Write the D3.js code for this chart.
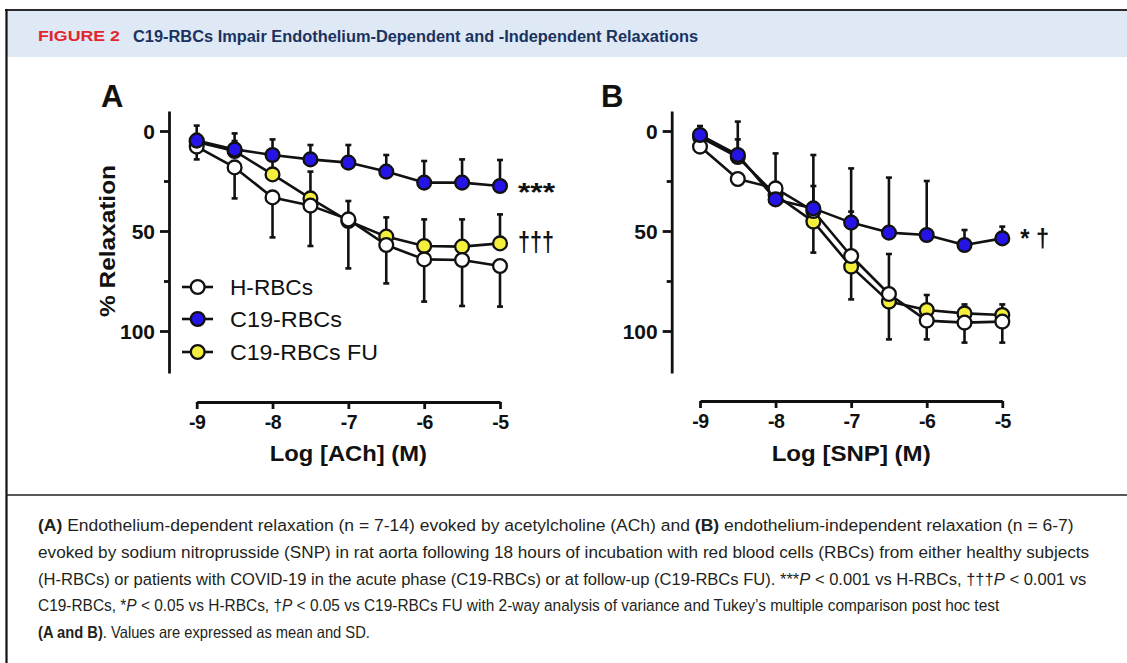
<!DOCTYPE html>
<html>
<head>
<meta charset="utf-8">
<script src="https://cdn.jsdelivr.net/npm/d3@7"></script>
<style>
  html, body { margin: 0; padding: 0; background: #fff; }
  svg { display: block; }
</style>
</head>
<body>
<svg id="chart" width="1127" height="663"></svg>
<script>
// ---------------- DATA ----------------
const doses = [-9, -8.5, -8, -7.5, -7, -6.5, -6, -5.5, -5];
const xTicks = [-9, -8, -7, -6, -5];
const yTicks = [0, 50, 100];
const yMinorTicks = [25, 75];
const seriesNames = ["H-RBCs", "C19-RBCs", "C19-RBCs FU"];

// Panel A : acetylcholine (% relaxation, mean and SD)
const achH_mean   = [7.8, 18.2, 33.2, 37.3, 44.2, 57.0, 64.2, 64.5, 67.5];
const achH_sd     = [6.4, 15.5, 20.0, 20.2, 24.5, 19.2, 21.1, 23.0, 20.3];
const achC19_mean = [4.8, 9.2, 12.0, 14.2, 15.8, 20.3, 25.8, 25.8, 27.5];
const achC19_sd   = [7.5, 8.0, 7.8, 7.2, 8.8, 8.3, 10.8, 11.6, 13.0];
const achFU_mean  = [5.5, 10.0, 21.7, 33.7, 45.0, 52.8, 57.5, 57.8, 56.2];
const achFU_sd    = [4.0, 5.0, 8.0, 13.4, 10.0, 9.6, 13.3, 13.6, 14.5];

// Panel B : sodium nitroprusside
const snpH_mean   = [7.8, 24.0, 28.7, 40.0, 62.5, 81.5, 94.8, 95.8, 95.3];
const snpH_sd     = [2.0, 3.0, 4.0, 20.8, 21.7, 22.7, 9.4, 10.0, 10.5];
const snpC19_mean = [2.0, 12.0, 34.2, 38.7, 45.8, 50.8, 52.0, 57.0, 53.7];
const snpC19_sd   = [4.5, 16.7, 23.0, 26.7, 27.1, 27.5, 27.0, 7.5, 5.9];
const snpFU_mean  = [3.0, 13.0, 32.0, 45.3, 67.8, 85.3, 89.5, 91.2, 92.0];
const snpFU_sd    = [3.0, 8.8, 5.0, 17.8, 27.5, 23.8, 7.5, 4.5, 5.3];

const captionLines = [
  [["(A)", "b"], [" Endothelium-dependent relaxation (n = 7-14) evoked by acetylcholine (ACh) and ", ""], ["(B)", "b"], [" endothelium-independent relaxation (n = 6-7)", ""]],
  [["evoked by sodium nitroprusside (SNP) in rat aorta following 18 hours of incubation with red blood cells (RBCs) from either healthy subjects", ""]],
  [["(H-RBCs) or patients with COVID-19 in the acute phase (C19-RBCs) or at follow-up (C19-RBCs FU). ***", ""], ["P", "i"], [" < 0.001 vs H-RBCs, \u2020\u2020\u2020", ""], ["P", "i"], [" < 0.001 vs", ""]],
  [["C19-RBCs, *", ""], ["P", "i"], [" < 0.05 vs H-RBCs, \u2020", ""], ["P", "i"], [" < 0.05 vs C19-RBCs FU with 2-way analysis of variance and Tukey\u2019s multiple comparison post hoc test", ""]],
  [["(A and B)", "b"], [". Values are expressed as mean and SD.", ""]]
];

// ---------------- STYLE / LAYOUT ----------------
const W = 1127, H = 663;
const colors = { "H-RBCs": "#ffffff", "C19-RBCs": "#2414e6", "C19-RBCs FU": "#f4ef3c" };
const errDir = { "H-RBCs": 1, "C19-RBCs": -1, "C19-RBCs FU": -1 };
const drawOrder = ["C19-RBCs FU", "H-RBCs", "C19-RBCs"];
const FONT = "'Liberation Sans', Arial, Helvetica, sans-serif";
const R = 6.9;

const svg = d3.select("#chart");
svg.append("rect").attr("width", W).attr("height", H).attr("fill", "#fff");

// header band and frame
svg.append("rect").attr("x", 6).attr("y", 11).attr("width", W - 6).attr("height", 46).attr("fill", "#dfe9f5");
svg.append("line").attr("x1", 5).attr("x2", W).attr("y1", 10).attr("y2", 10).attr("stroke", "#2a2a2a").attr("stroke-width", 2);
svg.append("line").attr("x1", 6.5).attr("x2", 6.5).attr("y1", 9).attr("y2", H).attr("stroke", "#111").attr("stroke-width", 2.2);
svg.append("line").attr("x1", 6).attr("x2", W).attr("y1", 495).attr("y2", 495).attr("stroke", "#222").attr("stroke-width", 1.6);

svg.append("text").attr("x", 38).attr("y", 41).attr("font-family", FONT).attr("font-weight", "bold")
  .attr("font-size", 14.5).attr("fill", "#e2262d").attr("textLength", 82).attr("lengthAdjust", "spacingAndGlyphs")
  .text("FIGURE 2");
svg.append("text").attr("x", 133).attr("y", 41.5).attr("font-family", FONT).attr("font-weight", "bold")
  .attr("font-size", 16).attr("fill", "#1b3260").attr("textLength", 565).attr("lengthAdjust", "spacingAndGlyphs")
  .text("C19-RBCs Impair Endothelium-Dependent and -Independent Relaxations");

// ---------------- PANELS ----------------
const panels = [
  {
    letter: "A", letterX: 101, xTitle: "Log [ACh] (M)", xTitleLen: 157,
    x0: 196.7, x1: 500, yAxisX: 169, xAxisY: 402, showLegend: true,
    series: { "H-RBCs": [achH_mean, achH_sd], "C19-RBCs": [achC19_mean, achC19_sd], "C19-RBCs FU": [achFU_mean, achFU_sd] },
    notes: [{ text: "***", series: "C19-RBCs", dy: 15, size: 25, len: 37 }, { text: "\u2020\u2020\u2020", series: "C19-RBCs FU", dy: 8, size: 27, len: 36 }]
  },
  {
    letter: "B", letterX: 601, xTitle: "Log [SNP] (M)", xTitleLen: 159,
    x0: 700, x1: 1002.3, yAxisX: 671.7, xAxisY: 401, showLegend: false,
    series: { "H-RBCs": [snpH_mean, snpH_sd], "C19-RBCs": [snpC19_mean, snpC19_sd], "C19-RBCs FU": [snpFU_mean, snpFU_sd] },
    notes: [{ text: "* \u2020", series: "C19-RBCs", dy: 9, size: 26, len: 29 }]
  }
];

panels.forEach(p => {
  const g = svg.append("g");
  const x = d3.scaleLinear().domain([-9, -5]).range([p.x0, p.x1]);
  const y = d3.scaleLinear().domain([-10, 121]).range([111, 373]);

  // panel letter
  g.append("text").attr("x", p.letterX).attr("y", 107).attr("font-family", FONT).attr("font-weight", "bold")
    .attr("font-size", 31).attr("fill", "#111").text(p.letter);

  // y axis
  const yAx = g.append("g").attr("transform", `translate(${p.yAxisX},0)`)
    .call(d3.axisLeft(y).tickValues(yTicks).tickSize(9).tickSizeOuter(0).tickPadding(5).tickFormat(d => String(d)));
  const yMin = g.append("g").attr("transform", `translate(${p.yAxisX},0)`)
    .call(d3.axisLeft(y).tickValues(yMinorTicks).tickSize(5).tickSizeOuter(0).tickFormat(""));
  yMin.select(".domain").remove();
  [yAx, yMin].forEach(a => {
    a.selectAll("path,line").attr("stroke", "#111").attr("stroke-width", 2.8);
  });
  yAx.selectAll("text").attr("font-family", FONT).attr("font-weight", "bold").attr("font-size", 21)
    .attr("fill", "#111").attr("dy", "0.36em");

  // x axis
  const xAx = g.append("g").attr("transform", `translate(0,${p.xAxisY})`)
    .call(d3.axisBottom(x).tickValues(xTicks).tickSize(7).tickSizeOuter(0).tickPadding(6).tickFormat(d => String(d)));
  xAx.selectAll("path,line").attr("stroke", "#111").attr("stroke-width", 2.8);
  xAx.selectAll("text").attr("font-family", FONT).attr("font-weight", "bold").attr("font-size", 19.5)
    .attr("fill", "#111").attr("letter-spacing", -0.5);

  g.append("text").attr("x", (p.x0 + p.x1) / 2).attr("y", 461).attr("text-anchor", "middle")
    .attr("font-family", FONT).attr("font-weight", "bold").attr("font-size", 22).attr("fill", "#111")
    .attr("textLength", p.xTitleLen).attr("lengthAdjust", "spacingAndGlyphs").text(p.xTitle);

  if (p.showLegend) {
    g.append("text").attr("transform", `translate(115,241) rotate(-90)`).attr("text-anchor", "middle")
      .attr("font-family", FONT).attr("font-weight", "bold").attr("font-size", 22).attr("fill", "#111")
      .attr("textLength", 152).attr("lengthAdjust", "spacingAndGlyphs").text("% Relaxation");
  }

  // error bars
  drawOrder.forEach(name => {
    const [m, s] = p.series[name];
    const dir = errDir[name];
    const eb = g.append("g").attr("stroke", "#111").attr("stroke-width", 2.6);
    doses.forEach((d, i) => {
      const yEnd = y(m[i] + dir * s[i]);
      eb.append("line").attr("x1", x(d)).attr("x2", x(d)).attr("y1", y(m[i])).attr("y2", yEnd);
      eb.append("line").attr("x1", x(d) - 3).attr("x2", x(d) + 3).attr("y1", yEnd).attr("y2", yEnd);
    });
  });

  // lines
  const line = d3.line().x((d, i) => x(doses[i])).y(d => y(d));
  drawOrder.forEach(name => {
    g.append("path").datum(p.series[name][0]).attr("d", line).attr("fill", "none")
      .attr("stroke", "#111").attr("stroke-width", 2.6).attr("stroke-linejoin", "round");
  });

  // points
  drawOrder.forEach(name => {
    g.append("g").selectAll("circle").data(p.series[name][0]).join("circle")
      .attr("cx", (d, i) => x(doses[i])).attr("cy", d => y(d)).attr("r", R)
      .attr("fill", colors[name]).attr("stroke", "#111").attr("stroke-width", 2.3);
  });

  // significance marks
  p.notes.forEach(n => {
    const m = p.series[n.series][0];
    g.append("text").attr("x", x(-5) + 18).attr("y", y(m[m.length - 1]) + n.dy)
      .attr("font-family", FONT).attr("font-weight", "bold").attr("font-size", n.size).attr("fill", "#111")
      .attr("textLength", n.len).attr("lengthAdjust", "spacingAndGlyphs").text(n.text);
  });

  // legend
  if (p.showLegend) {
    const legY = [287, 319, 352];
    const legLen = [83, 112, 148];
    seriesNames.forEach((name, i) => {
      const lg = g.append("g").attr("transform", `translate(0,${legY[i]})`);
      lg.append("line").attr("x1", 182).attr("x2", 213).attr("stroke", "#111").attr("stroke-width", 2.6);
      lg.append("circle").attr("cx", 197.7).attr("r", R).attr("fill", colors[name])
        .attr("stroke", "#111").attr("stroke-width", 2.3);
      lg.append("text").attr("x", 230).attr("y", 7.5).attr("font-family", FONT).attr("font-size", 21.5)
        .attr("fill", "#111").attr("textLength", legLen[i]).attr("lengthAdjust", "spacingAndGlyphs").text(name);
    });
  }
});

// ---------------- CAPTION ----------------
// each line is set at natural width and then scaled horizontally to the reference width
const capLens = [1036, 1052, 1049, 962, 332];
captionLines.forEach((parts, li) => {
  const t = svg.append("text").attr("x", 0).attr("y", 0)
    .attr("font-family", FONT).attr("font-size", 16.5).attr("fill", "#231f20")
    .attr("xml:space", "preserve");
  parts.forEach(([txt, st]) => {
    const ts = t.append("tspan").text(txt);
    if (st === "b") ts.attr("font-weight", "bold");
    if (st === "i") ts.attr("font-style", "italic");
  });
  const natural = t.node().getComputedTextLength();
  const sx = capLens[li] / natural;
  t.attr("transform", `translate(38,${531 + li * 26.8}) scale(${sx},1)`);
});
</script>
</body>
</html>
